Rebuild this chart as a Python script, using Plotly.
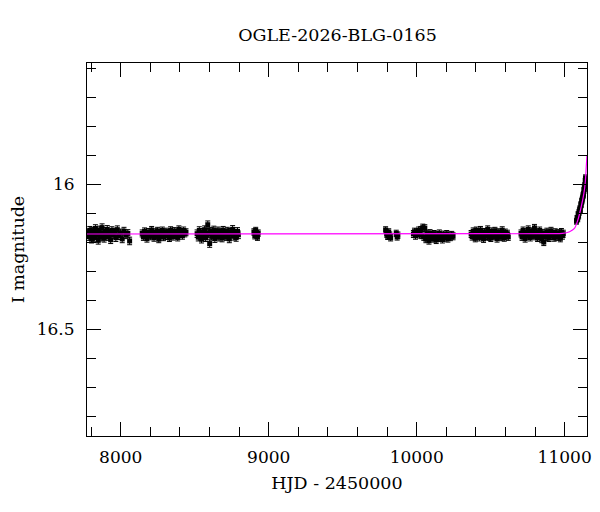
import plotly.graph_objects as go

# ---------------- data ----------------
s1_t = [7778, 7785, 7791, 7797, 7803, 7810, 7816, 7822, 7829, 7835, 7841, 7848, 7855, 7861, 7868, 7874, 7881, 7888,
        7895, 7902, 7909, 7916, 7924, 7932, 7940, 7949, 7958, 7967, 7977, 7987, 7998, 8010, 8022, 8035, 8048, 8060]
s1_m = [16.168, 16.181, 16.159, 16.175, 16.190, 16.162, 16.172, 16.184, 16.153, 16.177, 16.166, 16.194, 16.158, 16.171,
        16.183, 16.150, 16.169, 16.187, 16.163, 16.176, 16.156, 16.181, 16.170, 16.192, 16.160, 16.174, 16.165, 16.185,
        16.157, 16.178, 16.168, 16.189, 16.162, 16.175, 16.170, 16.196]

s2_t = [8145, 8153, 8161, 8169, 8177, 8185, 8193, 8201, 8209, 8217, 8225, 8233, 8241, 8249, 8257, 8265, 8273, 8281,
        8289, 8297, 8305, 8313, 8321, 8329, 8337, 8345, 8353, 8361, 8369, 8377, 8385, 8393, 8401, 8409, 8417, 8425,
        8433, 8441]
s2_m = [16.170, 16.182, 16.163, 16.176, 16.188, 16.165, 16.174, 16.180, 16.158, 16.171, 16.185, 16.166, 16.177, 16.161,
        16.190, 16.169, 16.175, 16.160, 16.183, 16.172, 16.164, 16.179, 16.168, 16.186, 16.159, 16.173, 16.181, 16.162,
        16.176, 16.167, 16.184, 16.156, 16.172, 16.165, 16.178, 16.160, 16.170, 16.166]

s3_t = [8516, 8524, 8531, 8539, 8546, 8553, 8560, 8567, 8574, 8581, 8588, 8594, 8601, 8608, 8615, 8622, 8629, 8636,
        8643, 8650, 8657, 8664, 8671, 8678, 8685, 8692, 8699, 8706, 8713, 8720, 8727, 8734, 8741, 8748, 8756, 8764,
        8772, 8780, 8789, 8795]
s3_m = [16.171, 16.183, 16.160, 16.176, 16.190, 16.166, 16.179, 16.157, 16.185, 16.169, 16.140, 16.172, 16.205, 16.163,
        16.180, 16.174, 16.158, 16.188, 16.167, 16.176, 16.161, 16.183, 16.170, 16.165, 16.186, 16.159, 16.177, 16.168,
        16.181, 16.162, 16.174, 16.189, 16.166, 16.171, 16.156, 16.180, 16.169, 16.184, 16.163, 16.175]

s4_t = [8900, 8906, 8912, 8918, 8924, 8929]
s4_m = [16.165, 16.178, 16.160, 16.172, 16.183, 16.169]

s5_t = [9790, 9797, 9804, 9811, 9818, 9824, 9862, 9868, 9873]
s5_m = [16.158, 16.172, 16.180, 16.165, 16.176, 16.185, 16.170, 16.182, 16.176]

s6_t = [9978, 9985, 9992, 9999, 10006, 10013, 10020, 10027, 10034, 10041, 10048, 10055, 10062, 10069, 10076, 10083,
        10090, 10097, 10104, 10111, 10118, 10125, 10132, 10139, 10146, 10153, 10160, 10167, 10174, 10181, 10188, 10195,
        10203, 10211, 10219, 10228, 10237, 10246]
s6_m = [16.172, 16.164, 16.178, 16.166, 16.170, 16.160, 16.174, 16.158, 16.176, 16.150, 16.182, 16.152, 16.190, 16.171,
        16.178, 16.195, 16.169, 16.184, 16.176, 16.188, 16.172, 16.181, 16.193, 16.175, 16.186, 16.170, 16.183, 16.178,
        16.191, 16.174, 16.185, 16.180, 16.172, 16.188, 16.177, 16.183, 16.175, 16.180]

s7_t = [10368, 10375, 10382, 10389, 10396, 10403, 10410, 10417, 10424, 10431, 10438, 10445, 10452, 10459, 10466, 10473,
        10480, 10487, 10494, 10501, 10508, 10515, 10522, 10529, 10536, 10543, 10550, 10557, 10564, 10571, 10578, 10585,
        10592, 10599, 10606, 10613, 10619]
s7_m = [16.172, 16.181, 16.163, 16.176, 16.187, 16.160, 16.174, 16.168, 16.184, 16.158, 16.177, 16.170, 16.189, 16.165,
        16.179, 16.173, 16.156, 16.182, 16.169, 16.186, 16.163, 16.175, 16.180, 16.161, 16.172, 16.188, 16.166, 16.178,
        16.170, 16.183, 16.159, 16.174, 16.185, 16.167, 16.177, 16.171, 16.182]

s8_t = [10705, 10712, 10719, 10726, 10733, 10740, 10747, 10754, 10761, 10768, 10775, 10782, 10789, 10796, 10803, 10810,
        10817, 10824, 10831, 10838, 10845, 10852, 10859, 10866, 10873, 10880, 10887, 10894, 10901, 10908, 10915, 10922,
        10929, 10936, 10943, 10950, 10957, 10964, 10971, 10978, 10985, 10991]
s8_m = [16.170, 16.182, 16.160, 16.175, 16.188, 16.166, 16.178, 16.156, 16.172, 16.184, 16.163, 16.176, 16.169, 16.151,
        16.180, 16.167, 16.186, 16.173, 16.160, 16.179, 16.190, 16.168, 16.200, 16.175, 16.182, 16.164, 16.177, 16.186,
        16.170, 16.161, 16.179, 16.173, 16.185, 16.166, 16.176, 16.182, 16.169, 16.174, 16.187, 16.165, 16.178, 16.171]

s9_t = [11080, 11084, 11088, 11091, 11094, 11097, 11100, 11103, 11106, 11109, 11112, 11115, 11118, 11121, 11124, 11127,
        11130, 11133, 11136, 11139, 11141]
s9_m = [16.128, 16.118, 16.120, 16.105, 16.110, 16.098, 16.092, 16.085, 16.088, 16.072, 16.070, 16.060, 16.055, 16.048,
        16.040, 16.035, 16.022, 16.015, 16.005, 15.990, 15.978]

season_err = [0.013, 0.012, 0.013, 0.011, 0.011, 0.012, 0.012, 0.012, 0.010]

model_t = [7772, 10900, 10986, 11033, 11066, 11089, 11112, 11130, 11140, 11146, 11151]
model_m = [16.172, 16.171, 16.170, 16.164, 16.153, 16.124, 16.078, 16.032, 15.990, 15.940, 15.900]

title_text = "OGLE-2026-BLG-0165"
x_title = "HJD - 2450000"
y_title = "I magnitude"
x_tickvals = [8000, 9000, 10000, 11000]
x_ticktext = ["8000", "9000", "10000", "11000"]
y_tickvals = [16.0, 16.5]
y_ticktext = ["16", "16.5"]
x_range = [7772, 11151]
y_range = [16.869, 15.582]

# ---------------- figure ----------------
seasons = [(s1_t, s1_m), (s2_t, s2_m), (s3_t, s3_m), (s4_t, s4_m), (s5_t, s5_m),
           (s6_t, s6_m), (s7_t, s7_m), (s8_t, s8_m), (s9_t, s9_m)]

fig = go.Figure()
for (t, m), e in zip(seasons, season_err):
    fig.add_trace(go.Scatter(
        x=t, y=m, mode="markers",
        marker=dict(symbol="square", size=5, color="black"),
        error_y=dict(type="constant", value=e, color="black", thickness=1, width=2.5),
        showlegend=False, hoverinfo="x+y"))

fig.add_trace(go.Scatter(x=model_t, y=model_m, mode="lines",
                         line=dict(color="#ff00ff", width=1.2, shape="spline", smoothing=0.6),
                         showlegend=False))

# the page body adds an 8 px offset, so the figure is 592x504 placed at (8, 8)
W, H = 592, 504
font = "DejaVu Serif"
fig.update_layout(
    width=W, height=H,
    margin=dict(l=79, r=13, t=55, b=76),
    paper_bgcolor="white", plot_bgcolor="white",
    font=dict(family=font, size=17, color="black"),
    title=dict(text=title_text, x=329.5 / W, xanchor="center", y=1 - 27 / H, yanchor="middle",
               font=dict(family=font, size=17.5, color="black")),
)
axis_common = dict(showline=True, linecolor="black", linewidth=1, mirror="allticks",
                   ticks="inside", ticklen=14, tickcolor="black", tickwidth=1,
                   showgrid=False, zeroline=False, automargin=False)
fig.update_xaxes(range=x_range, tickvals=x_tickvals, ticktext=x_ticktext,
                 minor=dict(dtick=200, tick0=0, ticks="inside", ticklen=9, tickcolor="black", showgrid=False),
                 title=dict(text=x_title, font=dict(size=17.5), standoff=10),
                 ticklabelstandoff=6, **axis_common)
fig.update_yaxes(range=y_range, tickvals=y_tickvals, ticktext=y_ticktext,
                 minor=dict(dtick=0.1, tick0=0, ticks="inside", ticklen=9, tickcolor="black", showgrid=False),
                 title=dict(text=y_title, font=dict(size=17.5), standoff=11),
                 ticklabelstandoff=8, **axis_common)

fig.write_html("out.html")
